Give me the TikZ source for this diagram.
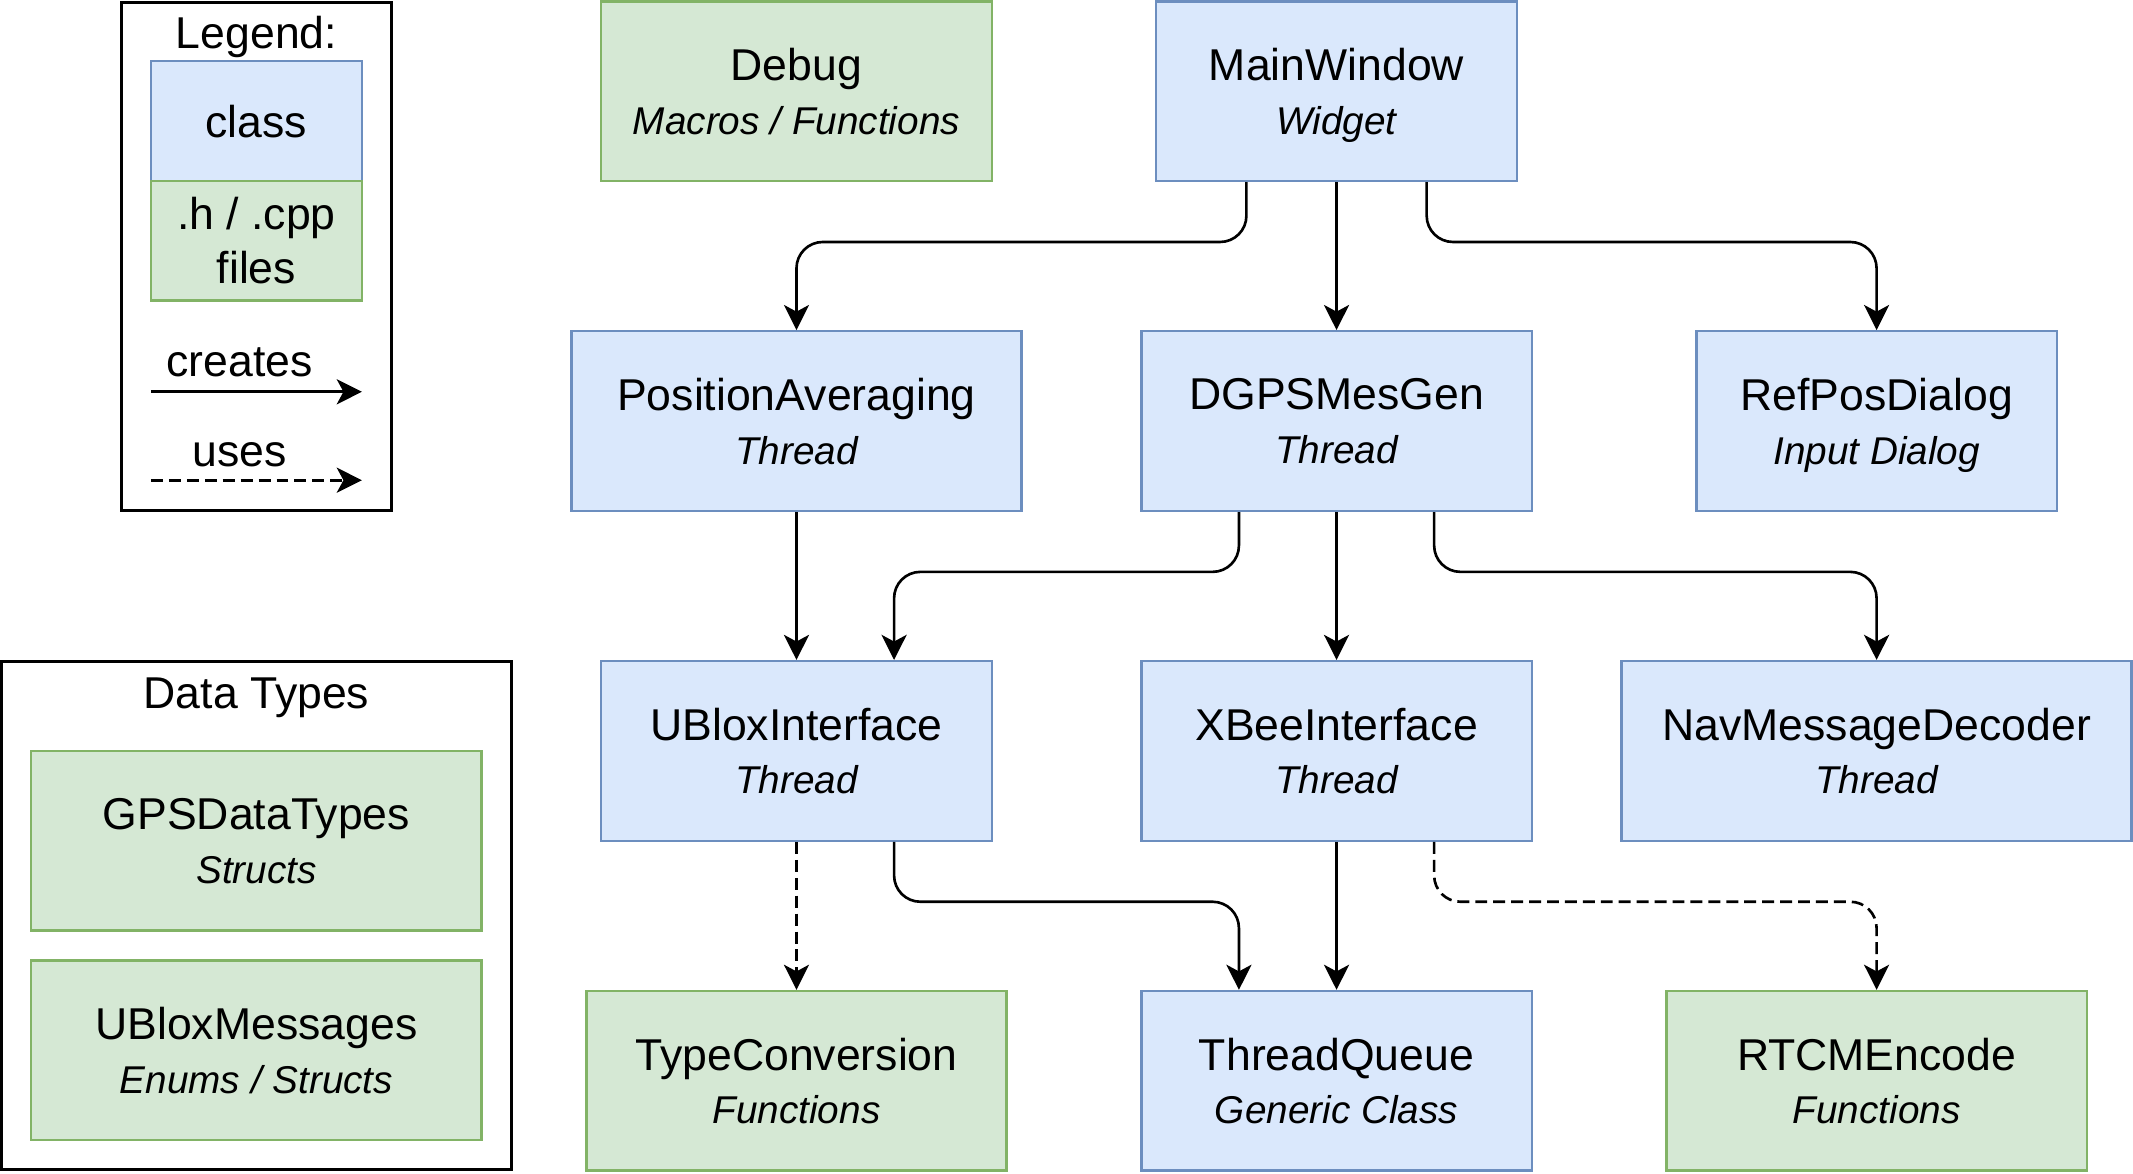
\documentclass[tikz,border=0pt]{standalone}
\usepackage{fontspec}
\setmainfont{Liberation Sans}
\usetikzlibrary{arrows.meta}
\usetikzlibrary{calc}

\definecolor{classfill}{HTML}{DAE8FC}
\definecolor{classline}{HTML}{6C8EBF}
\definecolor{filefill}{HTML}{D5E8D4}
\definecolor{fileline}{HTML}{82B366}

\newcommand{\kind}[1]{\raisebox{0pt}[\height][0pt]{\fontsize{16.2pt}{22.5pt}\selectfont\itshape #1}}

\tikzset{
    every node/.style = {font=\fontsize{18.65pt}{22.5pt}\selectfont, align=center},
    classbox/.style = {draw=classline, fill=classfill, line width=1pt, minimum height=2.64cm, inner sep=0pt},
    filebox/.style = {draw=fileline, fill=filefill, line width=1pt, minimum height=2.64cm, inner sep=0pt},
    frame/.style = {draw=black, line width=1.3pt, inner sep=0pt},
    creates/.style = {-{Stealth[length=10.5pt,width=10.5pt,inset=2.8pt]}, line width=1.1pt, rounded corners=11pt},
    uses/.style = {creates, dash pattern=on 5pt off 2.5pt}
}

\begin{document}
\begin{tikzpicture}
    \useasboundingbox (0,0) rectangle (31.36,-17.25);
    % legend
    \node[frame, minimum width=3.98cm, minimum height=7.46cm] (legend) at (3.77,-3.77) {};
    \node[anchor=base] (legendtitle) at (3.77,-0.71) {Legend:};
    \node[classbox, minimum width=3.1cm, minimum height=1.76cm] (classkey) at (3.77,-1.78) {class};
    \node[filebox, minimum width=3.1cm, minimum height=1.76cm] (filekey) at (3.77,-3.54) {.h / .cpp\\files};
    \node[anchor=base] (createslabel) at (3.52,-5.54) {creates};
    \coordinate (createsfrom) at (2.22,-5.76);
    \coordinate (createsto) at (5.32,-5.76);
    \draw[creates] (createsfrom) -- (createsto);
    \node[anchor=base] (useslabel) at (3.52,-6.86) {uses};
    \coordinate (usesfrom) at (2.22,-7.06);
    \coordinate (usesto) at (5.32,-7.06);
    \draw[uses] (usesfrom) -- (usesto);
    % data types
    \node[frame, minimum width=7.5cm, minimum height=7.48cm] (datatypes) at (3.77,-13.46) {};
    \node[anchor=base] (datatitle) at (3.77,-10.41) {Data Types};
    \node[filebox, minimum width=6.62cm] (GPSDataTypes) at (3.77,-12.36) {GPSDataTypes\\\kind{Structs}};
    \node[filebox, minimum width=6.62cm] (UBloxMessages) at (3.77,-15.44) {UBloxMessages\\\kind{Enums / Structs}};
    % modules
    \node[filebox, minimum width=5.74cm] (Debug) at (11.71,-1.34) {Debug\\\kind{Macros / Functions}};
    \node[classbox, minimum width=5.3cm] (MainWindow) at (19.65,-1.34) {MainWindow\\\kind{Widget}};
    \node[classbox, minimum width=6.62cm] (PositionAveraging) at (11.71,-6.19) {PositionAveraging\\\kind{Thread}};
    \node[classbox, minimum width=5.74cm] (DGPSMesGen) at (19.65,-6.19) {DGPSMesGen\\\kind{Thread}};
    \node[classbox, minimum width=5.3cm] (RefPosDialog) at (27.59,-6.19) {RefPosDialog\\\kind{Input Dialog}};
    \node[classbox, minimum width=5.74cm] (UBloxInterface) at (11.71,-11.04) {UBloxInterface\\\kind{Thread}};
    \node[classbox, minimum width=5.74cm] (XBeeInterface) at (19.65,-11.04) {XBeeInterface\\\kind{Thread}};
    \node[classbox, minimum width=7.5cm] (NavMessageDecoder) at (27.59,-11.04) {NavMessageDecoder\\\kind{Thread}};
    \node[filebox, minimum width=6.18cm] (TypeConversion) at (11.71,-15.89) {TypeConversion\\\kind{Functions}};
    \node[classbox, minimum width=5.74cm] (ThreadQueue) at (19.65,-15.89) {ThreadQueue\\\kind{Generic Class}};
    \node[filebox, minimum width=6.18cm] (RTCMEncode) at (27.59,-15.89) {RTCMEncode\\\kind{Functions}};
    % connections
    \draw[creates] ($(MainWindow.south)+(-1.325,0)$) -- ++(0,-0.88) -| (PositionAveraging.north);
    \draw[creates] (MainWindow) -- (DGPSMesGen);
    \draw[creates] ($(MainWindow.south)+(1.325,0)$) -- ++(0,-0.88) -| (RefPosDialog.north);
    \draw[creates] (PositionAveraging) -- (UBloxInterface);
    \draw[creates] ($(DGPSMesGen.south)+(-1.435,0)$) -- ++(0,-0.88) -| ($(UBloxInterface.north)+(1.435,0)$);
    \draw[creates] (DGPSMesGen) -- (XBeeInterface);
    \draw[creates] ($(DGPSMesGen.south)+(1.435,0)$) -- ++(0,-0.88) -| (NavMessageDecoder.north);
    \draw[uses] (UBloxInterface) -- (TypeConversion);
    \draw[creates] ($(UBloxInterface.south)+(1.435,0)$) -- ++(0,-0.88) -| ($(ThreadQueue.north)+(-1.435,0)$);
    \draw[creates] (XBeeInterface) -- (ThreadQueue);
    \draw[uses] ($(XBeeInterface.south)+(1.435,0)$) -- ++(0,-0.88) -| (RTCMEncode.north);
\end{tikzpicture}
\end{document}
